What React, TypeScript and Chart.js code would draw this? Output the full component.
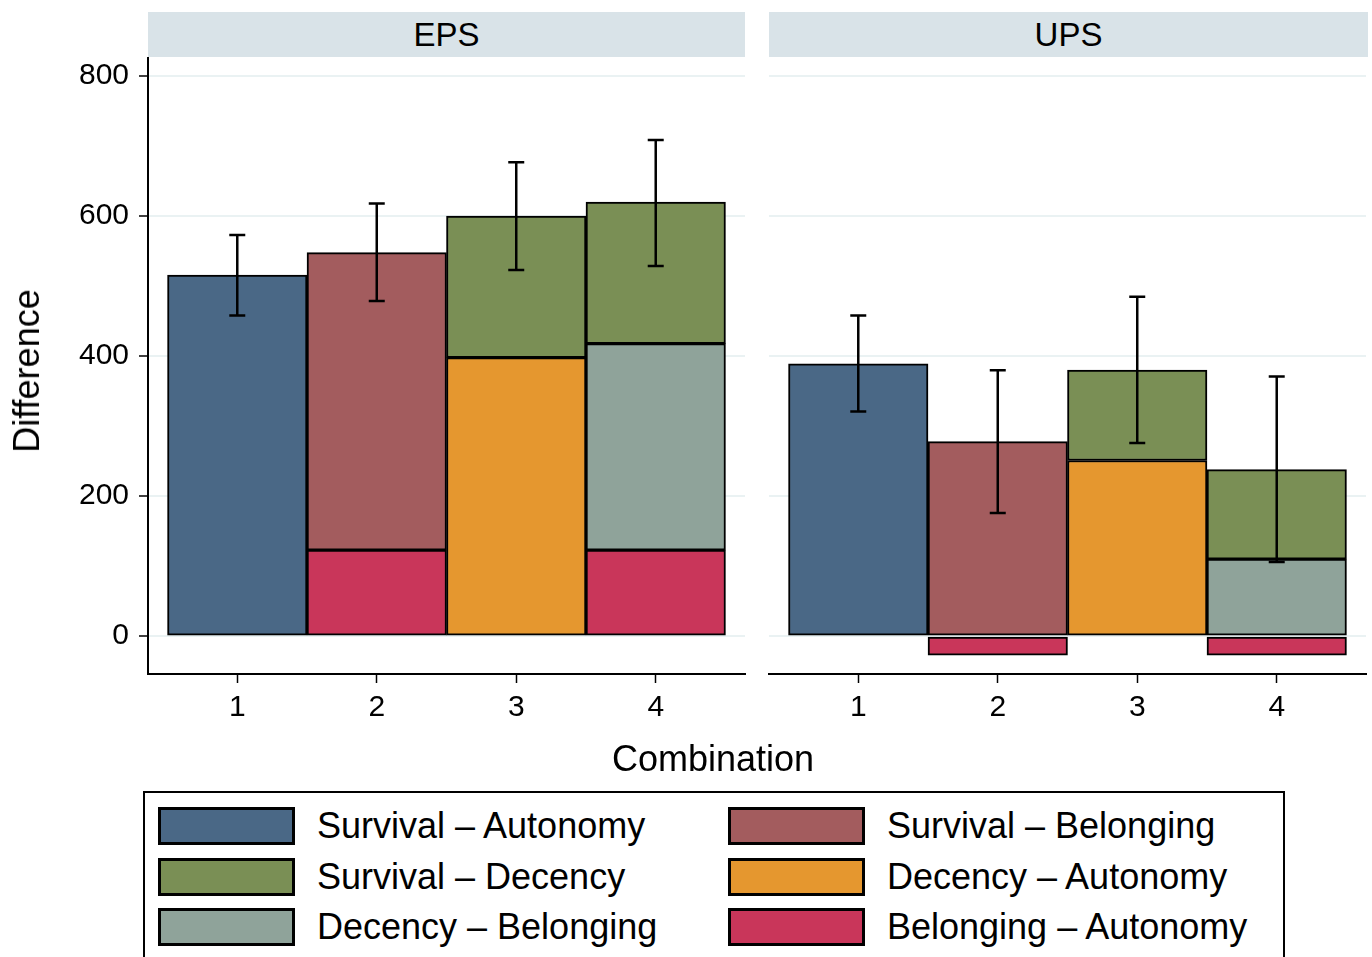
import React, { useEffect, useRef } from "react";
import { Chart, registerables } from "chart.js";

Chart.register(...registerables);

const FONT = '"Liberation Sans", Arial, Helvetica, sans-serif';
Chart.defaults.font.family = FONT;

// ---------- data ----------
const combinations = [1, 2, 3, 4];
const yTicks = [0, 200, 400, 600, 800];
const panelTitles = ["EPS", "UPS"];
const seriesLabels = [
  "Survival – Autonomy",
  "Survival – Belonging",
  "Survival – Decency",
  "Decency – Autonomy",
  "Decency – Belonging",
  "Belonging – Autonomy",
];
const seriesColors = ["#4A6886", "#A35C5E", "#7A8F55", "#E5972F", "#8FA39A", "#C9365A"];
// stacking order, bottom -> top (indices into seriesLabels)
const stackOrder = [5, 3, 4, 0, 1, 2];

const epsSurvivalAutonomy = [516, null, null, null];
const epsSurvivalBelonging = [null, 425, null, null];
const epsSurvivalDecency = [null, null, 202, 202];
const epsDecencyAutonomy = [null, null, 398, null];
const epsDecencyBelonging = [null, null, null, 295];
const epsBelongingAutonomy = [null, 123, null, 123];
const epsErrLow = [458, 479, 523, 529];
const epsErrHigh = [573, 618, 677, 709];

const upsSurvivalAutonomy = [389, null, null, null];
const upsSurvivalBelonging = [null, 278, null, null];
const upsSurvivalDecency = [null, null, 129, 128];
const upsDecencyAutonomy = [null, null, 251, null];
const upsDecencyBelonging = [null, null, null, 110];
const upsBelongingAutonomy = [null, -27, null, -27];
const upsErrLow = [321, 176, 276, 106];
const upsErrHigh = [458, 380, 485, 371];

const epsSeries = [
  epsSurvivalAutonomy,
  epsSurvivalBelonging,
  epsSurvivalDecency,
  epsDecencyAutonomy,
  epsDecencyBelonging,
  epsBelongingAutonomy,
];
const upsSeries = [
  upsSurvivalAutonomy,
  upsSurvivalBelonging,
  upsSurvivalDecency,
  upsDecencyAutonomy,
  upsDecencyBelonging,
  upsBelongingAutonomy,
];

// ---------- chart panel ----------
type PanelProps = {
  series: (number | null)[][];
  errLow: number[];
  errHigh: number[];
  showY: boolean;
  left: number;
  width: number;
  yWidth: number;
  padLeft: number;
  padRight: number;
};

const CANVAS_TOP = 28;
const CANVAS_H = 714;

function Panel({ series, errLow, errHigh, showY, left, width, yWidth, padLeft, padRight }: PanelProps) {
  const ref = useRef<HTMLCanvasElement | null>(null);

  useEffect(() => {
    if (!ref.current) return;
    const errorBars = {
      id: "errorBars",
      afterDatasetsDraw(chart: any) {
        const { ctx } = chart;
        const x = chart.scales.x;
        const y = chart.scales.y;
        ctx.save();
        ctx.strokeStyle = "#000";
        ctx.lineWidth = 2.5;
        combinations.forEach((c, i) => {
          const px = x.getPixelForValue(c);
          const yl = y.getPixelForValue(errLow[i]);
          const yh = y.getPixelForValue(errHigh[i]);
          ctx.beginPath();
          ctx.moveTo(px, yl);
          ctx.lineTo(px, yh);
          ctx.moveTo(px - 8, yl);
          ctx.lineTo(px + 8, yl);
          ctx.moveTo(px - 8, yh);
          ctx.lineTo(px + 8, yh);
          ctx.stroke();
        });
        ctx.restore();
      },
    };

    const datasets = stackOrder.map((i) => ({
      label: seriesLabels[i],
      data: combinations.map((c, j) => ({ x: c, y: series[i][j] })),
      backgroundColor: seriesColors[i],
      borderColor: "#000",
      borderWidth: 2,
      borderSkipped: false as const,
      barPercentage: 1,
      categoryPercentage: 1,
      stack: "s",
    }));

    const chart = new Chart(ref.current, {
      type: "bar",
      data: { datasets: datasets as any },
      options: {
        animation: false,
        responsive: false,
        maintainAspectRatio: false,
        layout: { padding: { left: padLeft, right: padRight, top: 30, bottom: 0 } },
        plugins: {
          legend: { display: false },
          tooltip: { enabled: false },
        },
        scales: {
          x: {
            type: "linear",
            min: 0.36,
            max: 4.64,
            stacked: true,
            offset: false,
            afterBuildTicks: (s: any) => {
              s.ticks = combinations.map((v) => ({ value: v }));
            },
            afterFit: (s: any) => {
              s.height = 68;
            },
            grid: {
              offset: false,
              drawOnChartArea: false,
              drawTicks: true,
              tickLength: 9,
              tickColor: "#000",
              tickWidth: 1.5,
            },
            border: { display: true, color: "#000", width: 2 },
            ticks: {
              color: "#000",
              font: { size: 30 },
              padding: 7,
              autoSkip: false,
              maxRotation: 0,
              callback: (v: any) => String(v),
            },
          },
          y: {
            type: "linear",
            min: -54,
            max: 826,
            stacked: true,
            afterBuildTicks: (s: any) => {
              s.ticks = yTicks.map((v) => ({ value: v }));
            },
            afterFit: (s: any) => {
              s.width = yWidth;
            },
            grid: {
              color: "#EAF2F3",
              lineWidth: 2,
              drawTicks: showY,
              tickLength: 9,
              tickColor: "#000",
              tickWidth: 1.5,
            },
            border: { display: showY, color: "#000", width: 2 },
            ticks: {
              display: showY,
              color: "#000",
              font: { size: 30 },
              padding: 10,
              callback: (v: any) => String(v),
            },
          },
        },
      } as any,
      plugins: [errorBars],
    });
    return () => chart.destroy();
  }, []);

  return (
    <canvas
      ref={ref}
      width={width}
      height={CANVAS_H}
      style={{ position: "absolute", left, top: CANVAS_TOP, width, height: CANVAS_H }}
    />
  );
}

const headerStyle = (left: number, width: number): React.CSSProperties => ({
  position: "absolute",
  left,
  top: 12,
  width,
  height: 45,
  background: "#D9E3E8",
  display: "flex",
  alignItems: "center",
  justifyContent: "center",
  fontSize: 33,
  color: "#000",
  lineHeight: 1,
});

export default function App() {
  const legendOrder = [0, 1, 2, 3, 4, 5];
  return (
    <div
      style={{
        position: "fixed",
        left: 0,
        top: 0,
        width: 1372,
        height: 957,
        background: "#fff",
        overflow: "hidden",
        fontFamily: FONT,
      }}
    >
      <div style={headerStyle(148, 597)}>{panelTitles[0]}</div>
      <div style={headerStyle(769, 599)}>{panelTitles[1]}</div>

      <Panel
        series={epsSeries}
        errLow={epsErrLow}
        errHigh={epsErrHigh}
        showY={true}
        left={0}
        width={760}
        yWidth={148}
        padLeft={0}
        padRight={15}
      />
      <Panel
        series={upsSeries}
        errLow={upsErrLow}
        errHigh={upsErrHigh}
        showY={false}
        left={760}
        width={612}
        yWidth={0}
        padLeft={9}
        padRight={6}
      />

      <div
        style={{
          position: "absolute",
          left: 27,
          top: 371,
          transform: "translate(-50%, -50%) rotate(-90deg)",
          whiteSpace: "nowrap",
          fontSize: 36,
          lineHeight: 1,
          color: "#000",
        }}
      >
        Difference
      </div>
      <div
        style={{
          position: "absolute",
          left: 713,
          top: 759,
          transform: "translate(-50%, -50%)",
          whiteSpace: "nowrap",
          fontSize: 36,
          lineHeight: 1,
          color: "#000",
        }}
      >
        Combination
      </div>

      <div
        style={{
          position: "absolute",
          left: 143,
          top: 791,
          width: 1142,
          height: 300,
          border: "2px solid #000",
          boxSizing: "border-box",
        }}
      />
      {legendOrder.map((si, k) => {
        const row = Math.floor(k / 2);
        const col = k % 2;
        const top = 807 + row * 50.5;
        const swLeft = col === 0 ? 158 : 728;
        const txLeft = col === 0 ? 317 : 887;
        return (
          <React.Fragment key={si}>
            <div
              style={{
                position: "absolute",
                left: swLeft,
                top,
                width: 137,
                height: 38,
                background: seriesColors[si],
                border: "3px solid #000",
                boxSizing: "border-box",
              }}
            />
            <div
              style={{
                position: "absolute",
                left: txLeft,
                top,
                height: 38,
                display: "flex",
                alignItems: "center",
                fontSize: 36,
                lineHeight: 1,
                whiteSpace: "nowrap",
                color: "#000",
              }}
            >
              {seriesLabels[si]}
            </div>
          </React.Fragment>
        );
      })}
    </div>
  );
}
